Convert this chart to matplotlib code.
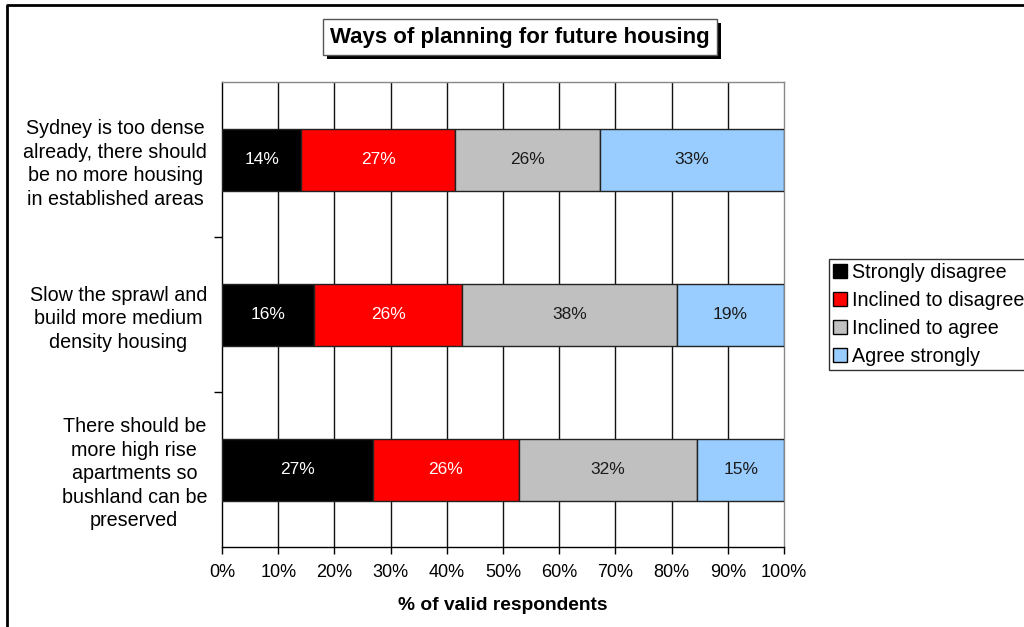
import matplotlib
matplotlib.use("Agg")
import matplotlib.pyplot as plt
import matplotlib.patheffects as pe
from matplotlib.lines import Line2D
from matplotlib.patches import Patch
import numpy as np

plt.rcParams['font.family'] = ['Liberation Sans', 'DejaVu Sans']

statements = [
    "Sydney is too dense\nalready, there should\nbe no more housing\nin established areas",
    "Slow the sprawl and\nbuild more medium\ndensity housing",
    "There should be\nmore high rise\napartments so\nbushland can be\npreserved",
]
responses = ["Strongly disagree", "Inclined to disagree", "Inclined to agree", "Agree strongly"]
strongly_disagree = [14.1, 16.4, 26.9]
inclined_disagree = [27.4, 26.3, 25.9]
inclined_agree = [25.8, 38.2, 31.8]
agree_strongly = [32.7, 19.1, 15.4]
x_ticks = [0, 10, 20, 30, 40, 50, 60, 70, 80, 90, 100]

series = [strongly_disagree, inclined_disagree, inclined_agree, agree_strongly]
colors = ["#000000", "#FF0000", "#C0C0C0", "#99CCFF"]
text_colors = ["white", "white", "#1a1a1a", "#1a1a1a"]

fig = plt.figure(figsize=(10.24, 6.27), dpi=100)
ax = fig.add_axes([222/1024, 1-547/627, (784-222)/1024, (547-82)/627])

y = np.arange(len(statements))
left = np.zeros(len(statements))
for vals, col, tcol, name in zip(series, colors, text_colors, responses):
    vals = np.array(vals)
    ax.barh(y, vals, left=left, height=0.4, color=col, edgecolor="#222222",
            linewidth=1.0, label=name, zorder=3)
    for yi, (l, v) in enumerate(zip(left, vals)):
        ax.text(l + v/2, yi, f"{round(v):.0f}%", ha="center", va="center",
                color=tcol, fontsize=12.5, zorder=4)
    left += vals

ax.set_xlim(0, 100)
ax.set_ylim(2.5, -0.5)
ax.set_xticks(x_ticks)
ax.set_xticklabels([f"{t}%" for t in x_ticks], fontsize=13)
ax.set_yticks(y)
ax.set_yticklabels(statements, fontsize=14.2, multialignment="center", linespacing=1.3)
ax.set_yticks([0.5, 1.5], minor=True)
ax.tick_params(axis="y", which="major", length=0, pad=10.8)
ax.tick_params(axis="y", which="minor", length=6, width=1, direction="out", color="black")
ax.tick_params(axis="x", length=5, width=1, direction="out", pad=7)

for xv in x_ticks[1:-1]:
    ax.axvline(xv, color="#111111", linewidth=1.0, zorder=1)

for side in ["left", "bottom"]:
    ax.spines[side].set_color("black")
    ax.spines[side].set_linewidth(1.0)
for side in ["top", "right"]:
    ax.spines[side].set_color("#888888")
    ax.spines[side].set_linewidth(1.0)

ax.set_xlabel("% of valid respondents", fontsize=13.8, fontweight="bold", labelpad=11.5)

# Title in a box with a drop shadow
title = fig.text(520/1024, 1-37/627, "Ways of planning for future housing", ha="center",
                 va="center", fontsize=16, fontweight="bold",
                 bbox=dict(boxstyle="square,pad=0.33", facecolor="white",
                           edgecolor="#555555", linewidth=1.0))
title.get_bbox_patch().set_path_effects([
    pe.SimplePatchShadow(offset=(3, -3), shadow_rgbFace="black", alpha=1.0),
    pe.Normal()])

# Legend
handles = [Patch(facecolor=c, edgecolor="black", linewidth=1.0) for c in colors]
leg = fig.legend(handles, responses, loc="upper left",
                 bbox_to_anchor=(829/1024, 1-259/627), fontsize=14.2,
                 frameon=True, fancybox=False, edgecolor="black",
                 handlelength=0.7, handleheight=0.7, handletextpad=0.25,
                 labelspacing=0.45, borderpad=0.2, borderaxespad=0)
leg.get_frame().set_linewidth(1.0)

# Outer chart frame
fig.add_artist(Line2D([7/1024, 7/1024, 1.0], [0.0, 1-5/627, 1-5/627],
                      transform=fig.transFigure, color="black", linewidth=2.0))

fig.savefig("out.png", dpi=100)
